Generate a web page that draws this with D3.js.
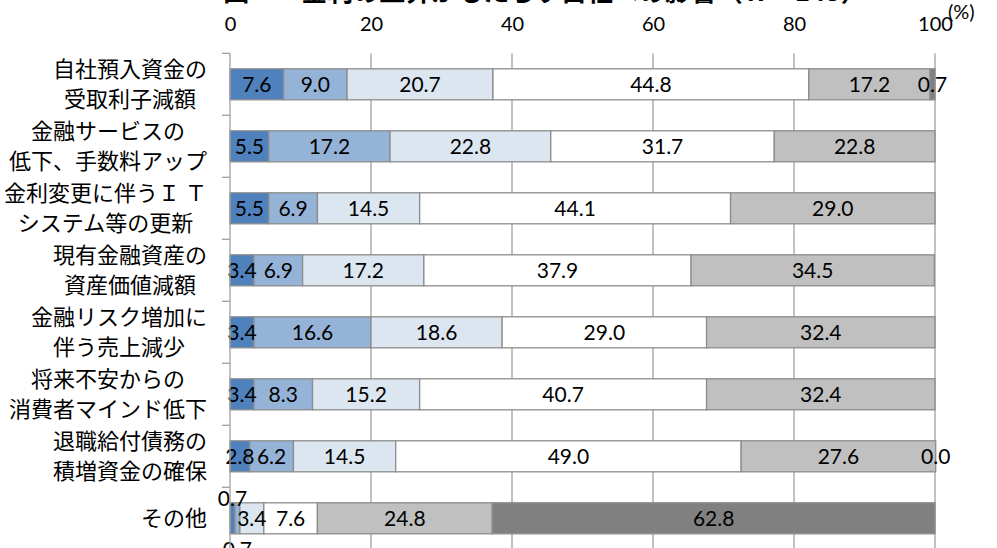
<!DOCTYPE html>
<html>
<head>
<meta charset="utf-8">
<script src="https://cdn.jsdelivr.net/npm/d3@7"></script>
<style>
  html, body { margin: 0; padding: 0; background: #fff; }
  svg { display: block; }
</style>
</head>
<body>
<svg id="chart" width="997" height="548"></svg>
<script>
// Impact categories (two-line labels)
const categories = [
  ["自社預入資金の", "受取利子減額"],
  ["金融サービスの", "低下、手数料アップ"],
  ["金利変更に伴うＩ Ｔ", "システム等の更新"],
  ["現有金融資産の", "資産価値減額"],
  ["金融リスク増加に", "伴う売上減少"],
  ["将来不安からの", "消費者マインド低下"],
  ["退職給付債務の", "積増資金の確保"],
  ["その他"]
];

// Response shares (%) per category, one array per answer level
const s1 = [7.6, 5.5, 5.5, 3.4, 3.4, 3.4, 2.8, 0.7];
const s2 = [9.0, 17.2, 6.9, 6.9, 16.6, 8.3, 6.2, 0.7];
const s3 = [20.7, 22.8, 14.5, 17.2, 18.6, 15.2, 14.5, 3.4];
const s4 = [44.8, 31.7, 44.1, 37.9, 29.0, 40.7, 49.0, 7.6];
const s5 = [17.2, 22.8, 29.0, 34.5, 32.4, 32.4, 27.6, 24.8];
const s6 = [0.7, null, null, null, null, null, 0.0, 62.8];

const xTicks = [0, 20, 40, 60, 80, 100];
const seriesColors = ["#4f81bd", "#95b3d7", "#dce6f1", "#ffffff", "#c0c0c0", "#808080"];
const titleText = "図　　金利の上昇がもたらす自社への影響（ｎ＝145）";

const series = [s1, s2, s3, s4, s5, s6];
const svg = d3.select("#chart");
const numFont = "Lato, 'Open Sans', sans-serif";

const x = d3.scaleLinear().domain([0, 100]).range([230, 935]);
const y = d3.scaleBand()
  .domain(d3.range(categories.length))
  .range([53.3, 549.3])
  .paddingInner(0.5)
  .paddingOuter(0.25);

// Title (top edge of the figure)
svg.append("text")
  .attr("x", 545).attr("y", 1)
  .attr("text-anchor", "middle")
  .attr("font-family", "'Noto Sans CJK JP'")
  .attr("font-weight", "bold")
  .attr("font-size", 26)
  .attr("fill", "#000")
  .text(titleText);

// Vertical gridlines
svg.append("g")
  .selectAll("line")
  .data(xTicks.slice(1))
  .join("line")
  .attr("x1", d => x(d)).attr("x2", d => x(d))
  .attr("y1", 53.3).attr("y2", 549.3)
  .attr("stroke", "#a0a0a0").attr("stroke-width", 1.3);

// Top axis tick labels
const xAxis = svg.append("g")
  .attr("transform", "translate(0,30.5)")
  .call(d3.axisTop(x).tickValues(xTicks).tickSize(0).tickPadding(0));
xAxis.select(".domain").remove();
xAxis.selectAll("text")
  .attr("font-family", numFont)
  .attr("font-size", 20)
  .attr("fill", "#000");

svg.append("text")
  .attr("x", 948).attr("y", 19)
  .attr("font-family", numFont)
  .attr("font-size", 20)
  .attr("fill", "#000")
  .text("(%)");

// Stacked bars
const stackData = categories.map((c, i) => {
  let acc = 0;
  return series.map((s, k) => {
    const v = s[i];
    const seg = { row: i, k, v, x0: acc, x1: acc + (v || 0) };
    acc += v || 0;
    return seg;
  });
});

const rows = svg.append("g").selectAll("g")
  .data(stackData)
  .join("g");

rows.selectAll("rect")
  .data(d => d.filter(s => s.v !== null && s.v > 0))
  .join("rect")
  .attr("x", d => x(d.x0))
  .attr("y", d => y(d.row))
  .attr("width", d => x(d.x1) - x(d.x0))
  .attr("height", y.bandwidth())
  .attr("fill", d => seriesColors[d.k])
  .attr("stroke", "#8c8c8c")
  .attr("stroke-width", 1.3);

// Value labels; the two tiny segments in the last row are pushed above/below the bar
rows.selectAll("text")
  .data(d => d.filter(s => s.v !== null))
  .join("text")
  .attr("x", d => x((d.x0 + d.x1) / 2))
  .attr("y", d => {
    let cy = y(d.row) + y.bandwidth() / 2;
    if (d.row === categories.length - 1 && d.k === 0) cy -= 20;
    if (d.row === categories.length - 1 && d.k === 1) cy += 31;
    return cy;
  })
  .attr("dy", "0.36em")
  .attr("text-anchor", "middle")
  .attr("font-family", numFont)
  .attr("font-size", 21)
  .attr("fill", "#000")
  .text(d => d.v.toFixed(1));

// Category axis line and ticks at band edges
svg.append("line")
  .attr("x1", 230).attr("x2", 230)
  .attr("y1", 53.3).attr("y2", 549.3)
  .attr("stroke", "#a0a0a0").attr("stroke-width", 1.3);

svg.append("g").selectAll("line")
  .data(d3.range(categories.length + 1))
  .join("line")
  .attr("x1", 222).attr("x2", 230)
  .attr("y1", i => 53.3 + i * y.step())
  .attr("y2", i => 53.3 + i * y.step())
  .attr("stroke", "#a0a0a0").attr("stroke-width", 1.3);

// Category labels: lines centred on each other, block right-aligned
const labelRight = 207;
const labels = svg.append("g").selectAll("g")
  .data(categories)
  .join("g");

labels.each(function(lines, i) {
  const g = d3.select(this);
  const cy = y(i) + y.bandwidth() / 2;
  const lh = 30;
  const texts = g.selectAll("text")
    .data(lines)
    .join("text")
    .attr("y", (d, j) => cy + (j - (lines.length - 1) / 2) * lh)
    .attr("dy", "0.36em")
    .attr("text-anchor", "middle")
    .attr("font-family", "'Noto Sans CJK JP', sans-serif")
    .attr("font-size", 22)
    .attr("fill", "#000")
    .text(d => d);
  let maxW = 0;
  texts.each(function() { maxW = Math.max(maxW, this.getComputedTextLength()); });
  texts.attr("x", labelRight - maxW / 2);
});
</script>
</body>
</html>
